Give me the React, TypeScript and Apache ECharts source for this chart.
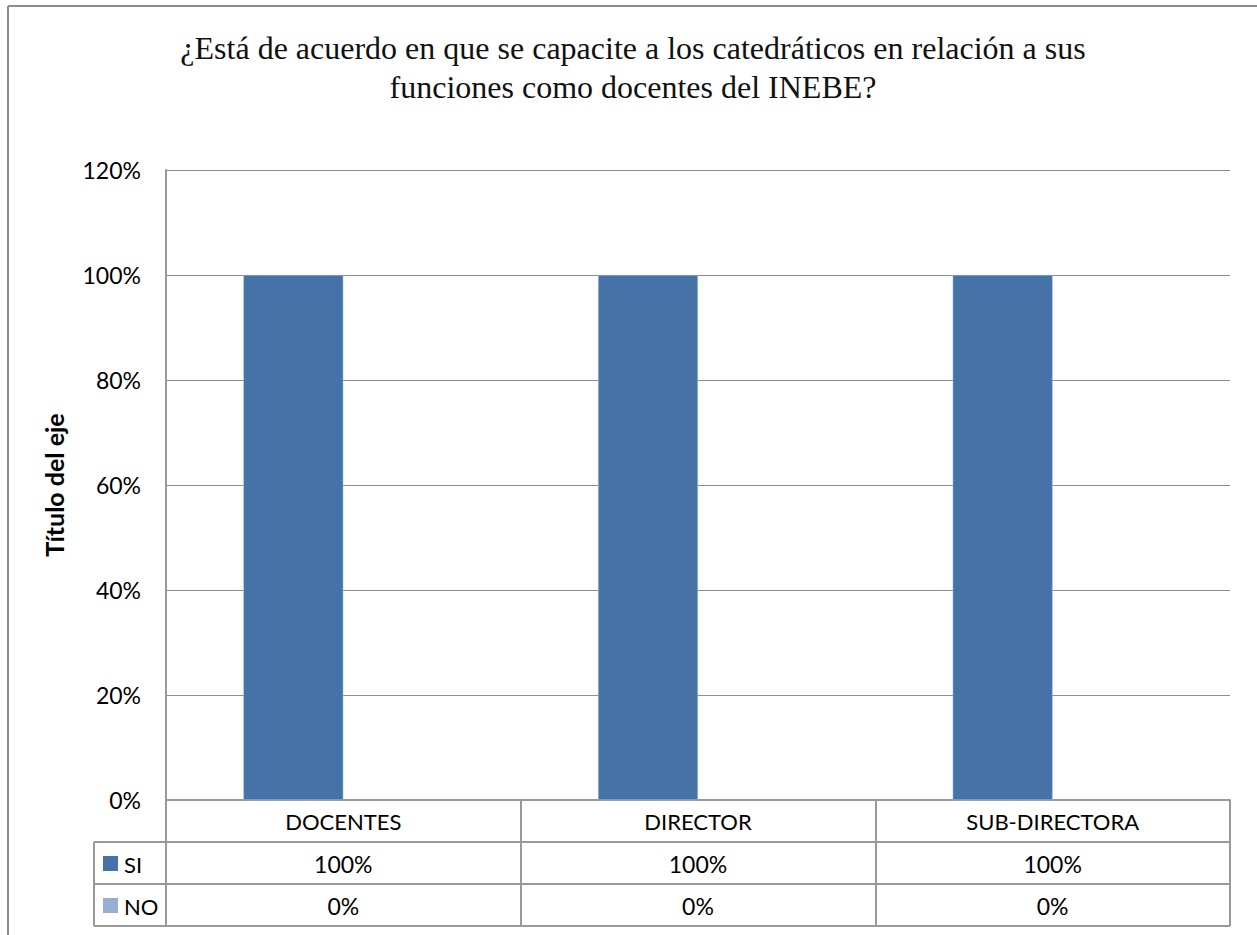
import React, { useEffect, useRef } from "react";
import * as echarts from "echarts";

const categories = ["DOCENTES", "DIRECTOR", "SUB-DIRECTORA"];
const seriesNames = ["SI", "NO"];
const siValues = [100, 100, 100];
const noValues = [0, 0, 0];
const yTicks = [0, 20, 40, 60, 80, 100, 120];
const titleLines = [
  "¿Está de acuerdo en que se capacite a los catedráticos en relación a sus",
  "funciones como docentes del INEBE?",
];
const axisTitle = "Título del eje";

const colors = ["#4573A7", "#98AFD4"];

const W = 1257;
const H = 935;
const G_LEFT = 166;
const G_RIGHT = 1230;
const G_TOP = 170;
const G_BOTTOM = 800;
const ROW_H = 42;
const LEG_LEFT = 94;
const SANS = "Lato, 'Open Sans', sans-serif";
const FS = 22;
const FS_NUM = 23;
const LINE = "#999999";

export default function App() {
  const ref = useRef<HTMLDivElement>(null);
  useEffect(() => {
    document.body.style.margin = "0";
    const chart = echarts.init(ref.current!, null, { renderer: "svg" });
    const tableRows = [siValues, noValues];
    const graphics: any[] = [];
    graphics.push({ type: "line", shape: { x1: 8, y1: 6, x2: W, y2: 6 }, style: { stroke: "#8c8c8c", lineWidth: 2 } });
    graphics.push({ type: "line", shape: { x1: 8, y1: 6, x2: 8, y2: H }, style: { stroke: "#8c8c8c", lineWidth: 2 } });
    for (let r = 1; r <= 3; r++) {
      const y = G_BOTTOM + r * ROW_H;
      graphics.push({ type: "line", shape: { x1: LEG_LEFT, y1: y, x2: G_RIGHT, y2: y }, style: { stroke: LINE, lineWidth: 2 } });
    }
    graphics.push({ type: "line", shape: { x1: LEG_LEFT, y1: G_BOTTOM + ROW_H, x2: LEG_LEFT, y2: G_BOTTOM + 3 * ROW_H }, style: { stroke: LINE, lineWidth: 2 } });
    const colW = (G_RIGHT - G_LEFT) / categories.length;
    tableRows.forEach((vals, r) => {
      const yc = G_BOTTOM + (r + 1) * ROW_H + ROW_H / 2;
      graphics.push({ type: "rect", shape: { x: 103, y: yc - 7, width: 15, height: 15 }, style: { fill: colors[r] } });
      graphics.push({ type: "text", x: 124, y: yc + 1, style: { text: seriesNames[r], font: `${FS}px ${SANS}`, fill: "#000", verticalAlign: "middle" } });
      vals.forEach((v, c) => {
        graphics.push({
          type: "text",
          x: G_LEFT + colW * (c + 0.5),
          y: yc + 1,
          style: { text: `${v}%`, font: `${FS_NUM}px ${SANS}`, fill: "#000", align: "center", verticalAlign: "middle" },
        });
      });
    });
    titleLines.forEach((t, i) => {
      graphics.push({
        type: "text",
        x: 633,
        y: 48 + i * 39,
        style: { text: t, font: "32px 'Liberation Serif', 'Times New Roman', serif", fill: "#111", align: "center", verticalAlign: "middle" },
      });
    });

    chart.setOption({
      animation: false,
      graphic: graphics,
      grid: { left: G_LEFT, right: W - G_RIGHT, top: G_TOP, bottom: H - G_BOTTOM, containLabel: false },
      xAxis: {
        type: "category",
        data: categories,
        axisLine: { show: true, lineStyle: { color: LINE, width: 2 } },
        axisTick: { show: true, length: 3 * ROW_H, lineStyle: { color: LINE, width: 2 } },
        axisLabel: { color: "#000", fontSize: FS, fontFamily: SANS, margin: 10, verticalAlign: "top" },
      },
      yAxis: {
        type: "value",
        min: 0,
        max: 120,
        interval: 20,
        name: axisTitle,
        nameLocation: "middle",
        nameGap: 100,
        nameTextStyle: { fontSize: 25, fontWeight: "bold", fontFamily: SANS, color: "#000" },
        axisLine: { show: true, lineStyle: { color: LINE, width: 2 } },
        axisTick: { show: false },
        splitLine: { lineStyle: { color: "#8c8c8c", width: 1 } },
        axisLabel: {
          color: "#000",
          fontSize: FS_NUM,
          fontFamily: SANS,
          margin: 25,
          formatter: (v: number) => (yTicks.includes(v) ? `${v}%` : ""),
        },
      },
      series: [
        {
          name: seriesNames[0],
          type: "bar",
          data: siValues,
          barWidth: 100,
          barGap: "0%",
          itemStyle: { color: colors[0], borderColor: "#b9cde5", borderWidth: 0.5 },
        },
        {
          name: seriesNames[1],
          type: "bar",
          data: noValues,
          barWidth: 100,
          itemStyle: { color: colors[1] },
        },
      ],
    });
    return () => chart.dispose();
  }, []);
  return <div ref={ref} style={{ width: W, height: H }} />;
}
